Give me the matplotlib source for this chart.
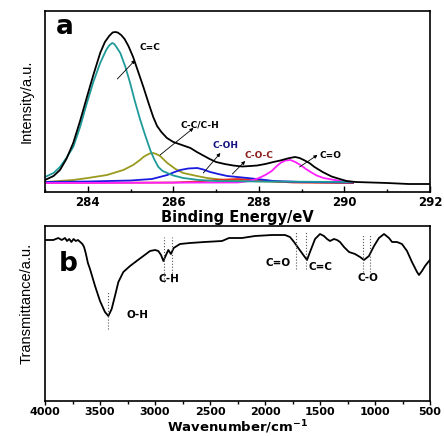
import numpy as np
import matplotlib.pyplot as plt
from matplotlib.ticker import MultipleLocator

# ---- panel a : XPS C1s ----
be_env = [283.0, 283.2, 283.35, 283.5, 283.66, 283.82, 283.98, 284.13, 284.29, 284.4,
          284.5, 284.58, 284.64, 284.7, 284.78, 284.86, 284.95, 285.06, 285.18, 285.30,
          285.42, 285.53, 285.62, 285.72, 285.85, 286.0, 286.2, 286.4, 286.55, 286.7,
          286.85, 287.0, 287.2, 287.4, 287.61, 287.8, 287.96, 288.15, 288.34, 288.5,
          288.67, 288.78, 288.85, 288.95, 289.05, 289.18, 289.3, 289.49, 289.7, 289.89,
          290.05, 290.26, 291.0, 291.5, 292.0]
i_env = [3, 7, 13, 24, 40, 62, 86, 108, 130, 141,
         147, 150.5, 151, 150.5, 148, 144, 137, 126, 111, 96,
         80, 66, 57, 51, 45, 41, 38, 35, 31, 27.5,
         24, 21, 19, 17.5, 16.5, 17, 17.5, 19, 21, 22.5,
         24.5, 25.5, 26, 25, 23, 20, 16, 11, 6.5, 4,
         2, 1, 0, -1, -1]

be_cc = [283.0, 283.2, 283.35, 283.5, 283.66, 283.82, 283.98, 284.13, 284.29, 284.43,
         284.5, 284.57, 284.62, 284.67, 284.76, 284.88, 284.99, 285.1, 285.22, 285.34,
         285.46, 285.55, 285.65, 285.75, 285.86, 286.0, 286.23, 286.6, 287.0, 288.0,
         290.2]
i_cc = [6, 10, 16, 25, 36, 56, 80, 101, 120, 133,
        137.5, 140, 139, 136, 130, 116, 100, 82, 64, 48,
        33, 24, 16, 12, 10, 7.5, 5, 3, 2, 1.5,
        1]

be_cch = [283.0, 283.66, 284.0, 284.45, 284.83, 285.06, 285.22, 285.3, 285.38, 285.45,
          285.53, 285.6, 285.69, 285.86, 286.05, 286.23, 286.55, 286.79, 287.2, 287.8,
          288.5, 290.2]
i_cch = [1, 3, 5, 8, 13, 18, 23, 26, 28, 29.5,
         30, 29, 27, 20, 14, 10, 7, 5, 3, 2,
         1, 0.5]

be_coh = [283.0, 284.0, 285.0, 285.5, 285.86, 286.0, 286.16, 286.35, 286.56, 286.7,
          286.86, 287.05, 287.26, 287.73, 288.05, 288.34, 289.0, 290.2]
i_coh = [1, 1.5, 2.5, 4, 8, 10.5, 13, 14.5, 15, 13.5,
         11, 9, 7, 5, 3.5, 2, 1, 0.5]

be_coc = [283.0, 286.0, 286.6, 287.0, 287.5, 288.0, 288.4, 288.8, 290.2]
i_coc = [0, 0.5, 1.5, 3, 4, 3, 1.5, 0.5, 0]

be_co = [283.0, 287.5, 287.7, 287.87, 288.0, 288.15, 288.3, 288.42, 288.52, 288.62,
         288.74, 288.85, 288.97, 289.1, 289.21, 289.35, 289.51, 289.7, 289.84, 290.0,
         290.21]
i_co = [0, 0.5, 1.5, 3, 5, 8, 12, 17, 20.5, 22.5,
        23, 21, 18, 14, 11, 7.5, 5, 3.5, 2.5, 1.5,
        1]

# ---- panel b : FTIR ----
wn = [4000, 3924, 3879, 3848, 3818, 3800, 3780, 3760, 3740, 3720,
      3700, 3680, 3660, 3645, 3630, 3610, 3591, 3545, 3500, 3455,
      3424, 3394, 3364, 3333, 3288, 3227, 3167, 3106, 3045, 3000,
      2970, 2945, 2924, 2900, 2879, 2855, 2830, 2773, 2682, 2550,
      2391, 2327, 2209, 2091, 1936, 1818, 1773, 1736, 1691, 1645,
      1618, 1591, 1545, 1500, 1464, 1436, 1409, 1373, 1345, 1318,
      1282, 1236, 1182, 1136, 1100, 1055, 1009, 964, 918, 873,
      845, 800, 755, 709, 664, 618, 600, 573, 545, 509, 500]
trans = [161, 161, 163, 161, 163, 160, 162, 159, 162, 160,
         161, 159, 157, 154, 148, 138, 132, 115, 100, 89,
         85, 92, 105, 119, 129, 135, 140, 145, 150, 151,
         150, 146, 140, 146, 151, 147, 153, 157, 158, 159,
         160, 163, 163, 165, 166, 166, 164, 159, 152, 145,
         141, 149, 162, 167, 165, 162, 160, 162, 161, 159,
         154, 149, 147, 144, 141, 145, 155, 163, 167, 163,
         159, 159, 157, 150, 139, 129, 126, 130, 135, 140, 141]

# band markers: (wavenumbers, y from, y to)
band_lines = [([3424], 72, 109), ([2920, 2850], 119, 164),
              ([1715, 1625], 132, 169), ([1105, 1050], 129, 166)]
band_labels = [("O-H", 3155, 85.5), ("C-H", 2877, 122.5), ("C=O", 1882, 138.5),
               ("C=C", 1500, 134.5), ("C-O", 1064, 123)]

W, H = 444, 436
fig = plt.figure(figsize=(W / 100, H / 100), dpi=100)
ax1 = fig.add_axes([45 / W, (H - 192) / H, 385 / W, 181 / H])
ax2 = fig.add_axes([45 / W, (H - 401) / H, 385 / W, 175 / H])

ylab_font = 'Liberation Sans'
lw = 1.3

ax1.plot(be_cch, i_cch, color='#9a9a1e', lw=lw)
ax1.plot(be_coc, i_coc, color='#e03020', lw=lw)
ax1.plot(be_coh, i_coh, color='#1a1ae0', lw=lw)
ax1.plot(be_co, i_co, color='#ff20ff', lw=lw)
ax1.plot(be_cc, i_cc, color='#1f9a9a', lw=lw)
ax1.plot(be_env, i_env, color='black', lw=lw)

ax1.set_xlim(283, 292)
ax1.set_ylim(-9, 172)
ax1.xaxis.set_major_locator(MultipleLocator(2))
ax1.xaxis.set_minor_locator(MultipleLocator(1))
ax1.tick_params(axis='x', which='major', direction='in', length=4, width=1, pad=3)
ax1.tick_params(axis='x', which='minor', direction='in', length=2.5, width=1)
ax1.set_yticks([])
ax1.text(283.47, 156.5, "a", fontsize=19, fontweight='bold', ha='center', va='center')

ann = [("C=C", 285.46, 136, 284.69, 104, 285.11, 123, 'black'),
       ("C-C/C-H", 286.61, 58, 285.69, 28, 286.47, 55, 'black'),
       ("C-OH", 287.22, 37.5, 286.70, 10, 287.10, 30, '#101080'),
       ("C-O-C", 287.99, 27, 287.38, 9, 287.68, 22, '#8b1a1a'),
       ("C=O", 289.67, 27, 288.95, 16, 289.37, 28, 'black')]
for txt, tx, ty, x0, y0, x1, y1, c in ann:
    ax1.text(tx, ty, txt, fontsize=6.5, fontweight='bold', color=c, ha='center', va='center')
    ax1.annotate("", xy=(x1, y1), xytext=(x0, y0),
                 arrowprops=dict(arrowstyle='-|>', color='black', lw=0.6,
                                 mutation_scale=5, shrinkA=0, shrinkB=0))

ax1.set_xlabel("Binding Energy/eV", fontsize=10.5, fontweight='bold')
ax1.xaxis.set_label_coords(0.5, -0.10)
ax1.set_ylabel("Intensity/a.u.", fontsize=10.5, family=ylab_font, va='center')
ax1.yaxis.set_label_coords(-0.047, 0.503)

ax2.plot(wn, trans, color='black', lw=lw)
for xs, y0, y1 in band_lines:
    for x in xs:
        ax2.plot([x, x], [y0, y1], color='#555555', lw=0.8, ls=':')
for txt, x, y in band_labels:
    ax2.text(x, y, txt, fontsize=7.5, fontweight='bold', ha='center', va='center')
ax2.text(3791, 137, "b", fontsize=19, fontweight='bold', ha='center', va='center')

ax2.set_xlim(4000, 500)
ax2.set_ylim(0, 175)
ax2.xaxis.set_major_locator(MultipleLocator(500))
ax2.xaxis.set_minor_locator(MultipleLocator(250))
ax2.tick_params(axis='x', which='major', direction='out', length=3, width=1, pad=1)
ax2.tick_params(axis='x', which='minor', direction='out', length=2, width=1)
ax2.set_yticks([])
ax2.set_xlabel("Wavenumber/cm$^{\\mathbf{-1}}$", fontsize=9.5, fontweight='bold')
ax2.xaxis.set_label_coords(0.5, -0.1)
ax2.set_ylabel("Transmittance/a.u.", fontsize=10.5, family=ylab_font, va='center')
ax2.yaxis.set_label_coords(-0.047, 0.56)

for ax in (ax1, ax2):
    for s in ax.spines.values():
        s.set_linewidth(1.2)
    for lab in ax.get_xticklabels():
        lab.set_fontweight('bold')
        lab.set_fontsize(8.5 if ax is ax1 else 8)

fig.savefig("out.png", dpi=100)
